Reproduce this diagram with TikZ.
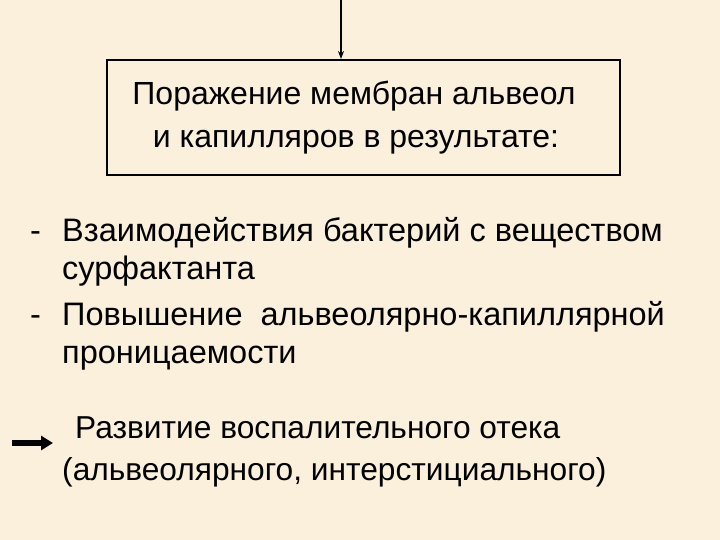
\documentclass[tikz,border=0pt]{standalone}
\usepackage{fontspec}
\setmainfont{Liberation Sans}
\usetikzlibrary{arrows.meta}
\definecolor{bg}{RGB}{250,240,219}
\tikzset{
  txt/.style={inner sep=0pt, anchor=base west, font=\fontsize{32.5}{38}\selectfont},
  btxt/.style={inner sep=0pt, anchor=base west, font=\fontsize{31.7}{38}\selectfont},
  ctxt/.style={inner sep=0pt, anchor=base, font=\fontsize{32}{38}\selectfont},
  frame/.style={draw=black, line width=2pt, minimum width=513pt, minimum height=115pt, inner sep=0pt},
}
\begin{document}
\begin{tikzpicture}[x=1pt,y=-1pt]
\fill[bg] (0,0) rectangle (720,540);
\useasboundingbox (0,0) rectangle (720,540);
\node[frame] (box) at (363.5,117.5) {};
\node[ctxt] (t1) at (354,105) {Поражение мембран альвеол};
\node[ctxt] (t2) at (356,148) {и капилляров в результате:};
\coordinate (top) at (341,0);
\draw[line width=1.3pt, -{Stealth[length=8pt,width=6pt]}] (top) -- (box.north -| top);
\node[txt] (d1) at (30,241) {-};
\node[txt] (l1) at (62,241) {Взаимодействия бактерий с веществом};
\node[txt] (l2) at (62,279) {сурфактанта};
\node[txt] (d2) at (30,325) {-};
\node[txt] (l3) at (62,325) {Повышение\ \ альвеолярно-капиллярной};
\node[txt] (l4) at (62,363) {проницаемости};
\node[btxt] (l5) at (75,438) {Развитие воспалительного отека};
\node[btxt] (l6) at (62,480) {(альвеолярного, интерстициального)};
\coordinate (as) at (12,443);
\coordinate (ae) at (53,443);
\draw[line width=6pt, -{Triangle[length=12pt,width=14pt]}] (as) -- (ae);
\end{tikzpicture}
\end{document}
